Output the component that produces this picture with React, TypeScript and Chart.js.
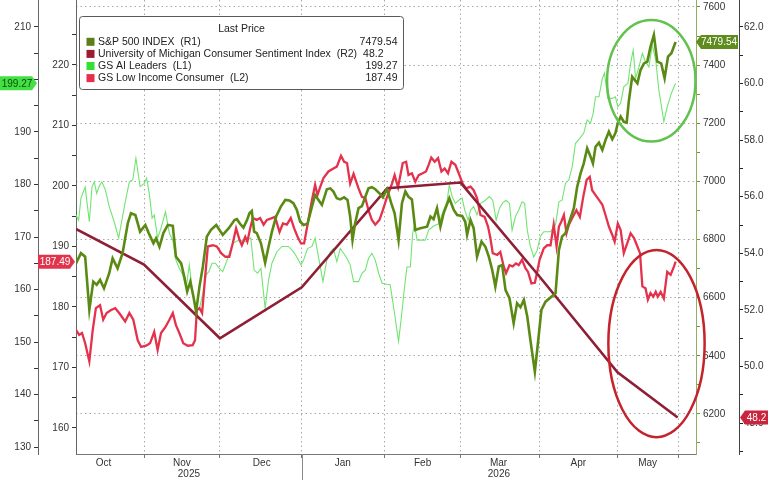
import React, { useEffect, useRef } from 'react';
import { Chart, registerables } from 'chart.js';

Chart.register(...registerables);

const FONT = "'Liberation Sans', Arial, sans-serif";

// ---- x axis (days since 1 Oct 2025) ----
const xMin = 5;
const xMax = 242;
const monthBoundaries = [31, 60, 91.3, 123, 152, 182, 212, 235.4];
const monthLabelPos = [15.5, 45.5, 76, 107, 137.5, 166.5, 197, 223.5];
const monthLabels = ['Oct', 'Nov', 'Dec', 'Jan', 'Feb', 'Mar', 'Apr', 'May'];
const yearBoundary = 91.3;
const yearLabels = ['2025', '2026'];

// ---- axis ticks ----
const aiAxisTicks = [130, 135, 140, 145, 150, 155, 160, 165, 170, 175, 180, 185, 190, 195, 200, 205, 210];
const lowIncAxisTicks = [160, 165, 170, 175, 180, 185, 190, 195, 200, 205, 210, 215, 220, 225];
const spAxisTicks = [6100, 6200, 6300, 6400, 6500, 6600, 6700, 6800, 6900, 7000, 7100, 7200, 7300, 7400, 7500, 7600];
const umAxisTicks = [47, 48, 49, 50, 51, 52, 53, 54, 55, 56, 57, 58, 59, 60, 61, 62];

// ---- S&P 500 INDEX (R1) ----
const spDays = [
  5.0, 6.9, 8.5, 10.1, 11.6, 12.9, 14.2, 15.7, 17.7, 19.0, 20.9, 22.8, 24.8, 26.0, 27.7, 29.5, 31.5, 32.8, 34.6, 35.6,
  36.9, 38.4, 40.1, 42.0, 43.2, 45.2, 46.4, 47.5, 48.7, 49.9, 50.9, 52.2, 53.5, 55.0, 56.6, 58.6, 61.1, 63.4, 65.6, 66.5,
  67.7, 69.0, 70.3, 71.3, 72.2, 73.1, 74.1, 75.7, 77.3, 78.6, 79.9, 81.5, 83.3, 85.0, 86.6, 88.1, 89.4, 90.7, 92.0, 93.5,
  95.2, 96.4, 97.7, 99.0, 100.9, 102.2, 103.4, 104.7, 106.0, 107.5, 108.8, 109.8, 110.7, 111.7, 113.0, 114.3, 115.6, 116.8, 118.1, 119.4,
  121.0, 122.3, 123.9, 125.5, 126.8, 128.3, 129.6, 130.9, 132.1, 133.4, 134.7, 136.6, 139.2, 140.5, 141.7, 143.0, 144.3, 145.5, 147.7, 149.4,
  150.7, 152.6, 153.8, 154.5, 155.8, 157.0, 158.3, 160.0, 161.5, 162.8, 164.1, 165.3, 166.6, 167.9, 169.2, 170.7, 172.3, 173.6, 174.9, 176.2,
  177.5, 178.7, 180.4, 181.7, 182.9, 184.5, 188.3, 189.6, 190.8, 192.1, 193.4, 195.3, 196.6, 197.9, 199.1, 200.4, 201.7, 202.6, 203.6, 204.9,
  206.2, 207.4, 208.7, 210.0, 211.2, 212.1, 213.2, 214.4, 215.5, 216.3, 217.6, 219.6, 220.8, 222.1, 223.4, 224.6, 225.9, 227.2, 228.7, 230.0,
  231.3, 232.6, 234.2,
];
const spValues = [
  6718, 6753, 6741, 6558, 6655, 6644, 6661, 6632, 6684, 6735, 6701, 6753, 6856, 6890, 6884, 6827, 6850, 6822, 6787, 6804,
  6775, 6822, 6850, 6847, 6741, 6718, 6672, 6621, 6655, 6603, 6552, 6638, 6707, 6810, 6833, 6850, 6816, 6839, 6867, 6870,
  6854, 6841, 6865, 6890, 6898, 6827, 6822, 6787, 6720, 6775, 6827, 6879, 6913, 6936, 6934, 6925, 6902, 6861, 6850, 6854,
  6913, 6953, 6936, 6919, 6973, 6976, 6965, 6942, 6938, 6945, 6936, 6879, 6798, 6856, 6908, 6915, 6947, 6976, 6980, 6973,
  6959, 6945, 6973, 6925, 6890, 6798, 6925, 6965, 6947, 6938, 6833, 6839, 6844, 6879, 6870, 6908, 6844, 6890, 6942, 6902,
  6884, 6881, 6861, 6816, 6867, 6839, 6741, 6793, 6775, 6741, 6695, 6638, 6707, 6712, 6626, 6598, 6512, 6581, 6567, 6592,
  6535, 6454, 6345, 6454, 6558, 6586, 6615, 6764, 6810, 6822, 6856, 6908, 6982, 7028, 7062, 7114, 7085, 7062, 7119, 7133,
  7108, 7142, 7171, 7145, 7166, 7200, 7223, 7205, 7202, 7274, 7360, 7337, 7383, 7406, 7412, 7463, 7504, 7412, 7406, 7355,
  7429, 7441, 7479.54,
];

// ---- University of Michigan Consumer Sentiment Index (R2) ----
const umDays = [0, 31, 60, 91.3, 124, 152, 182, 212, 235];
const umValues = [55.1, 53.6, 51.0, 52.8, 56.3, 56.5, 53.2, 49.8, 48.2];

// ---- GS AI Leaders (L1) ----
const aiDays = [
  5.0, 6.0, 6.9, 8.5, 10.1, 11.1, 12.0, 12.9, 13.9, 14.9, 16.2, 17.7, 19.6, 21.3, 22.8, 24.1, 25.4, 26.7, 27.9, 29.5,
  31.1, 32.0, 33.0, 34.1, 34.9, 36.2, 37.5, 39.2, 40.7, 42.0, 43.2, 44.5, 45.8, 47.1, 48.3, 49.4, 50.5, 52.2, 53.5, 54.7,
  55.8, 57.0, 58.3, 59.8, 61.1, 63.0, 64.9, 66.3, 67.7, 69.7, 71.8, 73.1, 74.4, 75.7, 77.3, 78.6, 79.9, 81.8, 83.7, 86.2,
  88.1, 89.4, 91.0, 92.0, 93.5, 95.2, 96.4, 97.7, 99.4, 100.9, 102.2, 103.4, 104.7, 106.0, 107.3, 108.6, 109.8, 111.1, 113.0, 114.3,
  115.6, 116.8, 118.1, 119.4, 120.7, 122.0, 123.9, 125.1, 126.4, 128.3, 129.4, 130.6, 131.5, 132.8, 133.7, 134.4, 135.4, 138.5, 139.8, 141.7,
  143.6, 145.5, 146.8, 147.7, 148.8, 150.0, 151.3, 152.6, 153.6, 154.9, 155.8, 157.0, 158.3, 159.6, 161.5, 163.0, 164.3, 165.6, 166.9, 168.1,
  169.4, 170.7, 171.7, 173.0, 174.2, 175.5, 176.5, 177.5, 178.7, 180.0, 181.3, 182.5, 183.8, 186.4, 188.3, 189.6, 190.8, 192.1, 193.4, 194.7,
  195.9, 197.6, 199.1, 200.4, 201.7, 202.7, 203.6, 204.9, 206.2, 207.0, 208.3, 210.0, 211.2, 212.1, 213.2, 214.4, 216.0, 217.0, 218.0, 218.9,
  220.2, 221.5, 222.7, 224.0, 225.3, 226.6, 227.8, 229.7, 231.0, 232.6, 234.2,
];
const aiValues = [
  174.2, 173.2, 177.4, 179.5, 172.9, 179.5, 180.5, 178.3, 179.7, 180.5, 179.0, 175.8, 172.9, 169.8, 173.9, 177.4, 180.5, 180.9, 185.0, 179.6,
  180.2, 181.2, 178.3, 173.6, 174.2, 169.8, 171.7, 174.8, 170.7, 169.4, 165.6, 164.0, 162.8, 160.2, 164.7, 160.2, 156.7, 156.4, 159.3, 162.8,
  163.4, 165.0, 165.0, 164.0, 163.4, 165.9, 168.8, 169.2, 169.4, 169.1, 169.8, 163.7, 163.1, 164.0, 156.4, 161.8, 165.0, 167.2, 168.2, 168.2,
  167.2, 166.2, 164.7, 165.6, 167.8, 168.2, 169.8, 166.2, 161.5, 165.6, 167.2, 167.8, 165.3, 167.8, 166.9, 165.9, 164.7, 161.5, 161.5, 163.1,
  163.7, 165.9, 166.9, 165.6, 163.1, 161.2, 161.0, 160.9, 156.7, 150.1, 154.8, 160.5, 164.3, 164.3, 170.7, 172.3, 169.4, 169.4, 171.3, 172.1,
  172.5, 175.1, 176.7, 179.9, 177.7, 176.4, 177.0, 177.4, 175.1, 173.2, 175.1, 175.8, 174.2, 176.4, 177.0, 177.7, 177.0, 173.2, 175.5, 176.5,
  177.0, 176.4, 171.3, 173.9, 175.1, 176.7, 176.4, 171.3, 168.2, 166.2, 167.5, 170.1, 171.0, 171.0, 172.3, 176.7, 177.0, 180.2, 180.9, 183.4,
  187.8, 188.8, 189.8, 192.3, 191.7, 193.6, 196.7, 196.7, 200.2, 201.2, 196.4, 196.4, 196.7, 194.8, 195.5, 198.6, 199.3, 203.1, 205.6, 200.2,
  202.4, 205.0, 203.4, 202.4, 206.6, 203.7, 198.0, 192.0, 194.8, 197.4, 199.27,
];

// ---- GS Low Income Consumer (L2) ----
const liDays = [
  5.0, 6.2, 7.3, 8.5, 10.1, 11.4, 12.6, 14.2, 15.4, 16.7, 18.4, 20.0, 21.5, 23.8, 25.4, 26.9, 28.6, 29.9, 31.8, 33.3,
  34.9, 36.2, 37.5, 39.2, 40.7, 42.0, 43.2, 44.5, 46.0, 47.7, 49.6, 50.5, 51.2, 52.2, 53.2, 54.1, 55.4, 57.3, 58.8, 60.5,
  62.1, 63.6, 64.9, 66.2, 67.5, 68.4, 69.7, 70.5, 71.6, 72.6, 74.1, 75.4, 76.7, 78.0, 79.9, 81.1, 82.8, 84.1, 85.6, 87.1,
  88.4, 89.7, 91.0, 92.2, 93.5, 95.2, 96.4, 97.3, 98.4, 99.6, 101.5, 103.4, 104.7, 106.3, 107.5, 108.6, 109.8, 111.1, 113.0, 114.3,
  115.6, 116.8, 118.1, 119.4, 121.0, 122.3, 123.9, 125.8, 126.8, 128.1, 129.9, 131.2, 132.1, 133.4, 134.7, 136.0, 137.5, 138.8, 139.8, 140.8,
  142.1, 143.4, 144.7, 145.9, 147.2, 148.5, 150.0, 151.3, 152.8, 154.1, 155.8, 157.0, 158.3, 159.6, 161.2, 162.5, 163.4, 164.3, 166.0, 167.2,
  168.5, 169.4, 170.7, 171.9, 173.2, 174.2, 175.5, 176.8, 177.8, 179.1, 180.4, 181.3, 182.2, 183.8, 185.1, 186.4, 187.6, 188.7, 189.6, 190.5,
  191.5, 192.5, 193.4, 194.7, 196.3, 197.6, 198.9, 200.2, 201.4, 202.3, 203.6, 204.9, 206.2, 207.4, 208.7, 210.0, 210.9, 212.1, 213.2, 214.4,
  215.7, 217.0, 218.3, 219.6, 220.6, 221.5, 222.7, 223.6, 224.6, 225.7, 226.6, 227.4, 228.5, 229.7, 231.0, 232.3, 233.6, 234.2,
];
const liValues = [
  176.2, 175.4, 175.7, 174.0, 171.0, 176.2, 179.8, 180.3, 177.9, 179.0, 179.5, 179.8, 179.0, 177.6, 179.0, 177.9, 174.5, 173.4, 173.6, 174.0,
  175.9, 172.9, 175.7, 176.7, 177.9, 179.0, 177.0, 175.7, 174.0, 173.6, 173.7, 174.5, 179.5, 179.8, 179.0, 183.6, 190.0, 190.2, 190.0, 188.9,
  188.3, 188.3, 190.5, 193.0, 191.1, 190.2, 191.6, 190.8, 193.0, 194.7, 194.4, 194.7, 193.6, 194.4, 194.7, 194.9, 192.4, 193.8, 193.6, 194.7,
  193.0, 191.6, 190.5, 190.5, 193.6, 197.7, 200.2, 198.5, 199.9, 201.3, 202.4, 202.9, 203.2, 205.0, 204.0, 203.8, 200.4, 202.0, 199.6, 198.2,
  198.0, 196.0, 194.4, 193.6, 194.4, 196.0, 198.2, 200.4, 201.8, 199.8, 203.8, 204.0, 201.8, 202.1, 200.7, 201.8, 202.1, 202.4, 203.5, 204.7,
  204.0, 204.6, 202.4, 202.9, 202.1, 204.0, 203.5, 202.1, 200.4, 199.6, 199.9, 199.3, 198.0, 195.2, 194.9, 193.3, 191.4, 188.9, 188.6, 189.1,
  186.7, 185.6, 186.9, 186.7, 187.2, 186.9, 187.8, 186.4, 185.8, 183.9, 184.0, 185.8, 187.8, 189.7, 190.2, 190.2, 193.6, 190.0, 193.3, 194.1,
  195.2, 192.2, 193.6, 194.7, 196.0, 194.9, 198.2, 201.0, 201.5, 199.3, 198.5, 197.7, 196.9, 195.2, 193.3, 191.9, 190.8, 193.8, 192.7, 188.9,
  190.5, 192.2, 191.4, 190.0, 188.9, 183.4, 183.1, 181.2, 182.3, 181.7, 182.5, 181.7, 182.5, 181.4, 185.8, 185.3, 186.7, 187.49,
];

// ---- legend / tags ----
const seriesNames = [
  'S&P 500 INDEX  (R1)',
  'University of Michigan Consumer Sentiment Index  (R2)',
  'GS AI Leaders  (L1)',
  'GS Low Income Consumer  (L2)',
];
const lastPriceLabels = ['7479.54', '48.2', '199.27', '187.49'];
const legendTitle = 'Last Price';

const COLORS = {
  sp: '#5b8a14',
  spTag: '#5e8c1f',
  spSwatch: '#5a7e1a',
  um: '#8e1f35',
  umSwatch: '#9b1c31',
  umTag: '#c9253f',
  ai: '#72e472',
  aiSwatch: '#33e033',
  aiTag: '#42e042',
  li: '#e4324d',
  liSwatch: '#e62e4d',
  liTag: '#e2334d',
};

// annotation ellipses, in data units (x days, y on S&P axis)
const greenEllipse = { day: 224.9, rxDays: 16.9, sp: 7346, rySp: 209 };
const redEllipse = { day: 226.9, rxDays: 18.4, sp: 6442, rySp: 322 };

const toXY = (xs: number[], ys: number[]) => xs.map((x, i) => ({ x, y: ys[i] }));

const fixW = (w: number) => (s: any) => {
  s.width = w;
  s.paddingTop = 0;
  s.paddingBottom = 0;
};
const fixH = (h: number) => (s: any) => {
  s.height = h;
  s.paddingLeft = 0;
  s.paddingRight = 0;
};
const setTicks = (vals: number[]) => (s: any) => {
  s.ticks = vals.map((v) => ({ value: v }));
};

function tagPath(ctx: CanvasRenderingContext2D, x0: number, x1: number, yc: number, h: number, point: 'left' | 'right') {
  const hh = h / 2;
  ctx.beginPath();
  if (point === 'left') {
    ctx.moveTo(x0, yc);
    ctx.lineTo(x0 + 5, yc - hh);
    ctx.lineTo(x1, yc - hh);
    ctx.lineTo(x1, yc + hh);
    ctx.lineTo(x0 + 5, yc + hh);
  } else {
    ctx.moveTo(x0, yc - hh);
    ctx.lineTo(x1 - 5, yc - hh);
    ctx.lineTo(x1, yc);
    ctx.lineTo(x1 - 5, yc + hh);
    ctx.lineTo(x0, yc + hh);
  }
  ctx.closePath();
}

const overlayPlugin = {
  id: 'overlay',
  afterDraw(chart: any) {
    const { ctx, chartArea, scales } = chart;
    const xs = scales.x;
    const r1 = scales.yR1;
    const r2 = scales.yR2;
    const l1 = scales.yL1;
    const l2 = scales.yL2;
    ctx.save();

    // year separator below axis
    const yb = Math.round(xs.getPixelForValue(yearBoundary)) + 0.5;
    ctx.strokeStyle = '#8a8a8a';
    ctx.lineWidth = 1;
    ctx.beginPath();
    ctx.moveTo(yb, chartArea.bottom);
    ctx.lineTo(yb, chart.height);
    ctx.stroke();

    // legend
    const lx = chartArea.left + 3.5;
    const ly = 16.5;
    const lw = 324;
    const lh = 73;
    ctx.fillStyle = '#ffffff';
    ctx.strokeStyle = '#5a5a5a';
    ctx.lineWidth = 1;
    ctx.beginPath();
    (ctx as any).roundRect(lx, ly, lw, lh, 3);
    ctx.fill();
    ctx.stroke();
    ctx.font = `10.5px ${FONT}`;
    ctx.fillStyle = '#222';
    ctx.textBaseline = 'middle';
    ctx.textAlign = 'center';
    ctx.fillText(legendTitle, lx + lw / 2, ly + 12.5);
    const swatches = [COLORS.spSwatch, COLORS.umSwatch, COLORS.aiSwatch, COLORS.liSwatch];
    const valueRight = [lx + lw - 6, lx + lw - 20, lx + lw - 6, lx + lw - 6];
    for (let i = 0; i < 4; i++) {
      const yy = ly + 25.3 + i * 12.1;
      ctx.fillStyle = swatches[i];
      ctx.fillRect(lx + 7, yy - 4, 8, 8);
      ctx.fillStyle = '#222';
      ctx.textAlign = 'left';
      ctx.fillText(seriesNames[i], lx + 18.5, yy);
      ctx.textAlign = 'right';
      ctx.fillText(lastPriceLabels[i], valueRight[i], yy);
    }

    // value tags on axes
    ctx.font = `10px ${FONT}`;
    ctx.textAlign = 'center';
    const tagH = 14;
    // S&P on R1
    let yc = r1.getPixelForValue(spValues[spValues.length - 1]);
    tagPath(ctx, r1.left, r1.right - 1, yc, tagH, 'left');
    ctx.fillStyle = COLORS.spTag;
    ctx.fill();
    ctx.fillStyle = '#ffffff';
    ctx.fillText(lastPriceLabels[0], (r1.left + r1.right + 3) / 2, yc + 0.5);
    // UMich on R2
    yc = r2.getPixelForValue(umValues[umValues.length - 1]);
    tagPath(ctx, r2.left + 1, r2.right + 4, yc, tagH, 'left');
    ctx.fillStyle = COLORS.umTag;
    ctx.fill();
    ctx.fillStyle = '#ffffff';
    ctx.fillText(lastPriceLabels[1], (r2.left + r2.right + 4) / 2 + 1, yc + 0.5);
    // AI on L1
    yc = l1.getPixelForValue(aiValues[aiValues.length - 1]);
    tagPath(ctx, l1.left, l1.right - 1, yc, tagH, 'right');
    ctx.fillStyle = COLORS.aiTag;
    ctx.fill();
    ctx.fillStyle = '#0e4a0e';
    ctx.fillText(lastPriceLabels[2], (l1.left + l1.right - 4) / 2, yc + 0.5);
    // Low income on L2
    yc = l2.getPixelForValue(liValues[liValues.length - 1]);
    tagPath(ctx, l2.left, l2.right - 1, yc, tagH, 'right');
    ctx.fillStyle = COLORS.liTag;
    ctx.fill();
    ctx.fillStyle = '#ffffff';
    ctx.fillText(lastPriceLabels[3], (l2.left + l2.right - 4) / 2, yc + 0.5);

    // annotation ellipses
    const drawEll = (e: any, color: string) => {
      const cx = xs.getPixelForValue(e.day);
      const rx = Math.abs(xs.getPixelForValue(e.day + e.rxDays) - cx);
      const cy = r1.getPixelForValue(e.sp);
      const ry = Math.abs(r1.getPixelForValue(e.sp + e.rySp) - cy);
      ctx.strokeStyle = color;
      ctx.lineWidth = 2.5;
      ctx.beginPath();
      ctx.ellipse(cx, cy, rx, ry, 0, 0, Math.PI * 2);
      ctx.stroke();
    };
    drawEll(greenEllipse, '#62c24e');
    drawEll(redEllipse, '#c4232b');

    ctx.restore();
  },
};

export default function App() {
  const ref = useRef<HTMLCanvasElement | null>(null);

  useEffect(() => {
    if (!ref.current) return;
    const tickFont = { family: FONT, size: 10 };
    const tickColor = '#333';
    const xTicks = [...monthBoundaries, ...monthLabelPos].sort((a, b) => a - b);
    const isBoundary = (v: number) => monthBoundaries.includes(v);
    const aiLast = aiValues[aiValues.length - 1];

    const chart = new Chart(ref.current, {
      type: 'line',
      data: {
        datasets: [
          {
            label: seriesNames[0],
            data: toXY(spDays, spValues),
            yAxisID: 'yR1',
            borderColor: COLORS.sp,
            borderWidth: 2.6,
            pointRadius: 0,
            tension: 0,
          },
          {
            label: seriesNames[1],
            data: toXY(umDays, umValues),
            yAxisID: 'yR2',
            borderColor: COLORS.um,
            borderWidth: 2.6,
            pointRadius: 0,
            tension: 0,
          },
          {
            label: seriesNames[3],
            data: toXY(liDays, liValues),
            yAxisID: 'yL2',
            borderColor: COLORS.li,
            borderWidth: 2.3,
            pointRadius: 0,
            tension: 0,
          },
          {
            label: seriesNames[2],
            data: toXY(aiDays, aiValues),
            yAxisID: 'yL1',
            borderColor: COLORS.ai,
            borderWidth: 1.1,
            pointRadius: 0,
            tension: 0,
          },
        ],
      },
      options: {
        responsive: false,
        maintainAspectRatio: false,
        animation: false,
        events: [],
        layout: { padding: 0 },
        plugins: { legend: { display: false }, tooltip: { enabled: false } },
        scales: {
          x: {
            type: 'linear',
            position: 'bottom',
            weight: 0,
            min: xMin,
            max: xMax,
            afterBuildTicks: setTicks(xTicks),
            afterFit: fixH(14),
            ticks: {
              autoSkip: false,
              maxRotation: 0,
              padding: 0,
              font: { ...tickFont, lineHeight: 1 },
              color: tickColor,
              callback: (v: any) => {
                const i = monthLabelPos.indexOf(Number(v));
                return i >= 0 ? monthLabels[i] : '';
              },
            },
            grid: {
              drawOnChartArea: true,
              drawTicks: true,
              tickLength: 4,
              color: (c: any) => (c.tick && isBoundary(c.tick.value) ? '#a8a8a8' : 'rgba(0,0,0,0)'),
              tickColor: (c: any) => (c.tick && isBoundary(c.tick.value) ? '#777' : 'rgba(0,0,0,0)'),
            },
            border: { display: true, color: '#777', width: 1, dash: [1.5, 3] },
          },
          xYear: {
            type: 'linear',
            position: 'bottom',
            weight: 1,
            min: xMin,
            max: xMax,
            afterBuildTicks: setTicks([(xMin + yearBoundary) / 2, (yearBoundary + xMax) / 2]),
            afterFit: fixH(12),
            ticks: {
              autoSkip: false,
              maxRotation: 0,
              padding: 1,
              font: { ...tickFont, lineHeight: 1 },
              color: tickColor,
              callback: (_v: any, i: number) => yearLabels[i] ?? '',
            },
            grid: { display: false, drawTicks: false },
            border: { display: false },
          },
          yL1: {
            type: 'linear',
            position: 'left',
            weight: 1,
            min: 128.67,
            max: 215.14,
            afterBuildTicks: setTicks(aiAxisTicks),
            afterFit: fixW(38),
            ticks: {
              autoSkip: false,
              padding: 3,
              font: tickFont,
              color: tickColor,
              callback: (v: any) =>
                Number(v) % 10 === 0 && Math.abs(Number(v) - aiLast) > 3 ? String(v) : '',
            },
            grid: { drawOnChartArea: false, drawTicks: true, tickLength: 4, tickColor: '#333' },
            border: { display: true, color: '#666', width: 1 },
          },
          yL2: {
            type: 'linear',
            position: 'left',
            weight: 0,
            min: 155.7,
            max: 230.74,
            afterBuildTicks: setTicks(lowIncAxisTicks),
            afterFit: fixW(38),
            ticks: {
              autoSkip: false,
              padding: 3,
              font: tickFont,
              color: tickColor,
              callback: (v: any) => (Number(v) % 10 === 0 ? String(v) : ''),
            },
            grid: { drawOnChartArea: false, drawTicks: true, tickLength: 4, tickColor: '#333' },
            border: { display: true, color: '#666', width: 1 },
          },
          yR1: {
            type: 'linear',
            position: 'right',
            weight: 0,
            min: 6062,
            max: 7624,
            afterBuildTicks: setTicks(spAxisTicks),
            afterFit: fixW(43),
            ticks: {
              autoSkip: false,
              padding: 3,
              font: tickFont,
              color: tickColor,
              callback: (v: any) => (Number(v) % 200 === 0 ? String(v) : ''),
            },
            grid: {
              drawOnChartArea: true,
              drawTicks: true,
              tickLength: 4,
              color: (c: any) => (c.tick && c.tick.value % 200 === 0 ? '#a8a8a8' : 'rgba(0,0,0,0)'),
              tickColor: '#6f9630',
            },
            border: { display: true, color: '#93ad66', width: 1, dash: [1.5, 3] },
          },
          yR2: {
            type: 'linear',
            position: 'right',
            weight: 1,
            min: 46.91,
            max: 62.95,
            afterBuildTicks: setTicks(umAxisTicks),
            afterFit: fixW(29),
            ticks: {
              autoSkip: false,
              padding: 1,
              font: tickFont,
              color: tickColor,
              callback: (v: any) => (Number(v) % 2 === 0 ? Number(v).toFixed(1) : ''),
            },
            grid: { drawOnChartArea: false, drawTicks: true, tickLength: 4, tickColor: '#222' },
            border: { display: true, color: '#444', width: 1 },
          },
        },
      } as any,
      plugins: [overlayPlugin],
    });
    return () => chart.destroy();
  }, []);

  return (
    <div style={{ position: 'fixed', left: 0, top: 0, width: 768, height: 480, background: '#ffffff' }}>
      <canvas ref={ref} width={768} height={480} style={{ display: 'block', width: 768, height: 480 }} />
    </div>
  );
}
